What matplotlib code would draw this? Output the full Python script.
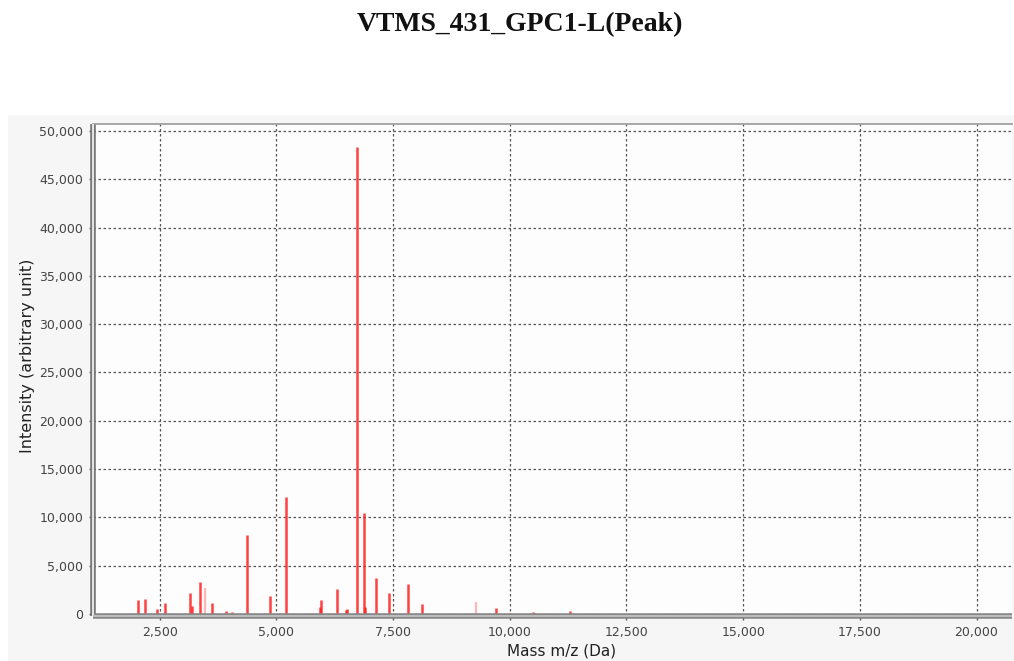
import matplotlib
matplotlib.use("Agg")
import matplotlib.pyplot as plt
from matplotlib.ticker import FuncFormatter

# Peak list (mass in Da, intensity in arbitrary units)
mass = [2036, 2194, 2451, 2608, 3143, 3200, 3373, 3630, 3915, 4058, 4365,
        4872, 5215, 5940, 5950, 6308, 6480, 6510, 6728, 6886, 6900, 7143,
        7418, 7822, 8115, 9707, 10000, 10500, 11300]
intensity = [1450, 1520, 490, 1170, 2170, 800, 3280, 1100, 340, 170, 8180,
             1860, 12140, 700, 1450, 2560, 450, 520, 48300, 10420, 700, 3690,
             2210, 3140, 1070, 650, 100, 250, 300]
# faint (pale) peaks
faint_mass = [3465, 9286]
faint_intensity = [2660, 1280]

title = "VTMS_431_GPC1-L(Peak)"
xlabel = "Mass m/z (Da)"
ylabel = "Intensity (arbitrary unit)"
xticks = [2500, 5000, 7500, 10000, 12500, 15000, 17500, 20000]
yticks = [0, 5000, 10000, 15000, 20000, 25000, 30000, 35000, 40000, 45000, 50000]

W, H = 1014, 661
fig = plt.figure(figsize=(W / 100, H / 100), dpi=100)
fig.patch.set_facecolor("white")

# light chart panel behind the plot
bg = fig.add_axes([8 / W, 0, 1 - 8 / W, 1 - 115 / H])
bg.set_facecolor("#f6f6f6")
bg.set_xticks([]); bg.set_yticks([])
for s in bg.spines.values():
    s.set_visible(False)
bg.set_zorder(0)

left, right, top, bottom = 93, 1012, 124, 616
ax = fig.add_axes([left / W, 1 - bottom / H, (right - left) / W, (bottom - top) / H])
ax.set_zorder(1)
ax.set_facecolor("#fdfdfd")

ax.vlines(faint_mass, 0, faint_intensity, color="#ff9999", lw=1.6, alpha=0.7, zorder=3)
ax.vlines(mass, 0, intensity, color="#ff2020", lw=1.8, alpha=0.85, zorder=4)

ax.set_xlim(1070, 20760)
ax.set_ylim(-210, 50725)
ax.set_xticks(xticks)
ax.set_yticks(yticks)
fmt = FuncFormatter(lambda v, p: f"{int(v):,}")
ax.xaxis.set_major_formatter(fmt)
ax.yaxis.set_major_formatter(fmt)

ax.grid(True, color="#555555", linestyle=(0, (2, 2)), linewidth=0.9)
ax.set_axisbelow(True)

for s in ax.spines.values():
    s.set_visible(False)

# double-line frame (left and bottom), thin top line
ax.plot([0, 0], [0, 1], transform=ax.transAxes, color="#777777", lw=4.0,
        clip_on=False, zorder=6, solid_capstyle="butt")
ax.plot([0, 0], [0, 1], transform=ax.transAxes, color="#fafafa", lw=1.2,
        clip_on=False, zorder=7, solid_capstyle="butt")
ax.plot([0, 1], [0, 0], transform=ax.transAxes, color="#888888", lw=4.0,
        clip_on=False, zorder=6, solid_capstyle="butt")
ax.plot([0, 1], [0, 0], transform=ax.transAxes, color="#c8c8c8", lw=1.2,
        clip_on=False, zorder=7, solid_capstyle="butt")
ax.plot([0, 1], [1, 1], transform=ax.transAxes, color="#999999", lw=1.2,
        clip_on=False, zorder=6)

ax.tick_params(axis="both", colors="#555555", labelcolor="#444444", labelsize=9,
               length=3, width=1, pad=4)

ax.set_xlabel(xlabel, fontsize=11, color="#222222")
ax.set_ylabel(ylabel, fontsize=11.5, color="#222222")
ax.xaxis.set_label_coords((562 - left) / (right - left), -(651 - bottom) / (bottom - top))
ax.yaxis.set_label_coords(-(left - 28) / (right - left), (bottom - 356) / (bottom - top))
ax.xaxis.label.set_va("center")
ax.yaxis.label.set_va("center")

fig.text(520 / W, 1 - 25 / H, title, ha="center", va="center",
         fontsize=20, fontweight="bold", family="Liberation Serif", color="#111111")

fig.savefig("out.png", dpi=100)
